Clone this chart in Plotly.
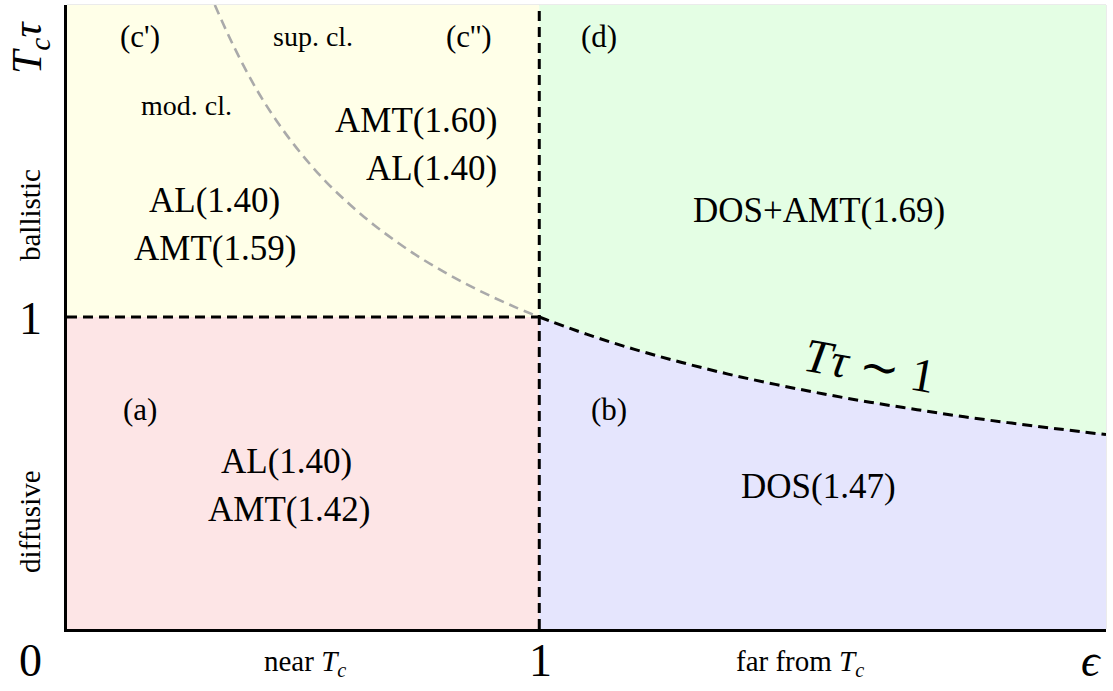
import plotly.graph_objects as go

# Crossover line T*tau ~ 1 for eps > 1
cross_x = [1.0, 1.1, 1.2, 1.3, 1.4, 1.5, 1.6, 1.7, 1.8, 1.9, 2.0, 2.1, 2.2]
cross_y = [1.00, 0.945, 0.897, 0.855, 0.817, 0.784, 0.754, 0.727, 0.703, 0.680, 0.660, 0.641, 0.623]

# Boundary between moderately and super clean regimes (eps < 1)
clean_x = [0.313, 0.35, 0.4, 0.45, 0.5, 0.55, 0.6, 0.65, 0.7, 0.75, 0.8, 0.85, 0.9, 0.95, 1.0]
clean_y = [2.00, 1.877, 1.733, 1.615, 1.516, 1.431, 1.359, 1.295, 1.239, 1.188, 1.143, 1.102, 1.065, 1.031, 1.0]

X_MAX = 2.2
Y_MAX = 2.0
EPS_C = 1.0
TAU_C = 1.0

# Region labels: (text, x, y, font size)
region_labels = [
    ("(c')", 0.154, 1.90, 31),
    ("sup. cl.", 0.52, 1.90, 28),
    ("(c'')", 0.852, 1.90, 31),
    ("(d)", 1.127, 1.90, 31),
    ("mod. cl.", 0.252, 1.678, 28),
    ("AMT(1.60)", 0.738, 1.630, 35),
    ("AL(1.40)", 0.772, 1.476, 35),
    ("AL(1.40)", 0.313, 1.373, 35),
    ("AMT(1.59)", 0.313, 1.219, 35),
    ("DOS+AMT(1.69)", 1.592, 1.341, 35),
    ("(a)", 0.154, 0.704, 31),
    ("(b)", 1.148, 0.704, 31),
    ("AL(1.40)", 0.465, 0.537, 35),
    ("AMT(1.42)", 0.470, 0.383, 35),
    ("DOS(1.47)", 1.592, 0.457, 35),
]

FONT = "Liberation Serif, Times New Roman, serif"
black_dash = dict(color="black", width=3, dash="10px,6px")

fig = go.Figure()

# Filled regions
fig.add_trace(go.Scatter(x=[0, EPS_C, EPS_C, 0], y=[0, 0, TAU_C, TAU_C], fill="toself",
                         fillcolor="rgb(253,229,230)", line=dict(width=0), mode="lines",
                         hoverinfo="skip"))
fig.add_trace(go.Scatter(x=[0, EPS_C, EPS_C, 0], y=[TAU_C, TAU_C, Y_MAX, Y_MAX], fill="toself",
                         fillcolor="rgb(255,255,232)", line=dict(width=0), mode="lines",
                         hoverinfo="skip"))
fig.add_trace(go.Scatter(x=cross_x + [X_MAX, EPS_C], y=cross_y + [Y_MAX, Y_MAX], fill="toself",
                         fillcolor="rgb(228,254,228)", line=dict(width=0), mode="lines",
                         hoverinfo="skip"))
fig.add_trace(go.Scatter(x=cross_x[::-1] + [EPS_C, X_MAX], y=cross_y[::-1] + [0, 0],
                         fill="toself", fillcolor="rgb(229,229,253)", line=dict(width=0),
                         mode="lines", hoverinfo="skip"))

# Boundaries
fig.add_trace(go.Scatter(x=clean_x, y=clean_y, mode="lines", line_shape="spline",
                         line=dict(color="rgb(170,170,170)", width=2.6, dash="10px,6px"),
                         hoverinfo="skip"))
fig.add_trace(go.Scatter(x=[0, EPS_C], y=[TAU_C, TAU_C], mode="lines", line=black_dash,
                         hoverinfo="skip"))
fig.add_trace(go.Scatter(x=[EPS_C, EPS_C], y=[0, Y_MAX], mode="lines", line=black_dash,
                         hoverinfo="skip"))
fig.add_trace(go.Scatter(x=cross_x, y=cross_y, mode="lines", line_shape="spline",
                         line=black_dash, hoverinfo="skip"))

annotations = []
for text, x, y, size in region_labels:
    annotations.append(dict(x=x, y=y, xref="x", yref="y", text=text, showarrow=False,
                            font=dict(family=FONT, size=size, color="black")))

annotations.append(dict(x=1.70, y=0.845, xref="x", yref="y", textangle=10,
                        text="<i>T</i><i>τ</i> ∼ 1", showarrow=False,
                        font=dict(family=FONT, size=48, color="black")))

# Labels outside the plotting area, positioned in pixels of the page
L, R, T, B = 67, 1106, 5, 629
axis_text = [
    ("0", 30, 660, 0, 46),
    ("1", 540, 660, 0, 46),
    ("<i>ϵ</i>", 1091, 660, 0, 46),
    ("near <i>T<sub>c</sub></i>", 305, 663, 0, 29),
    ("far from <i>T<sub>c</sub></i>", 800, 663, 0, 29),
    ("1", 30, 318, 0, 46),
    ("<i>T<sub>c</sub>τ</i>", 30, 48, -90, 42),
    ("ballistic", 30, 215, -90, 29),
    ("diffusive", 30, 522, -90, 29),
]
for text, px, py, ang, size in axis_text:
    annotations.append(dict(x=(px - L) / (R - L), y=(B - py) / (B - T),
                            xref="paper", yref="paper", xanchor="center", yanchor="middle",
                            text=text, showarrow=False, textangle=ang,
                            font=dict(family=FONT, size=size, color="black")))

fig.update_layout(
    width=1113, height=691,
    margin=dict(l=L, r=1113 - R, t=T, b=691 - B),
    paper_bgcolor="white", plot_bgcolor="white",
    showlegend=False,
    annotations=annotations,
    xaxis=dict(range=[0, X_MAX], showgrid=False, zeroline=False, showticklabels=False,
               ticks="", showline=True, linecolor="black", linewidth=2.5, mirror=False),
    yaxis=dict(range=[0, Y_MAX], showgrid=False, zeroline=False, showticklabels=False,
               ticks="", showline=True, linecolor="black", linewidth=2.5, mirror=False),
    shapes=[dict(type="rect", xref="paper", yref="paper", x0=0, y0=0, x1=1, y1=1,
                 line=dict(color="rgb(215,215,215)", width=1), layer="below")],
)

fig.write_html("out.html")
